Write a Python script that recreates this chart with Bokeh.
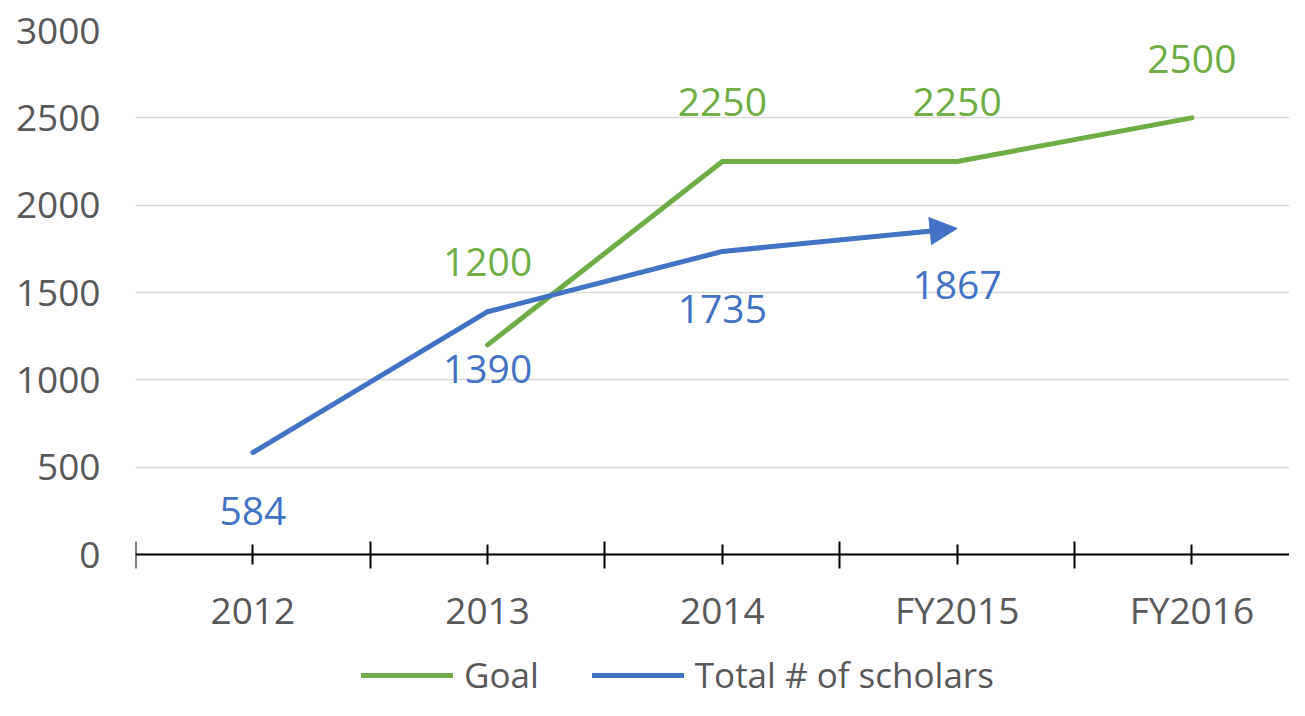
from bokeh.plotting import figure
from bokeh.models import (ColumnDataSource, FixedTicker, LabelSet, Arrow, NormalHead,
                          Legend, LegendItem)
from bokeh.core.properties import value
from bokeh.embed import file_html
from bokeh.resources import INLINE

# ---- data ----
categories = ["2012", "2013", "2014", "FY2015", "FY2016"]
goal_categories = ["2013", "2014", "FY2015", "FY2016"]
goal_values = [1200, 2250, 2250, 2500]
scholar_categories = ["2012", "2013", "2014", "FY2015"]
scholar_values = [584, 1390, 1735, 1867]
y_ticks = [0, 500, 1000, 1500, 2000, 2500, 3000]
series_names = ["Goal", "Total # of scholars"]

# ---- style ----
GREEN = "#70AD47"
BLUE = "#4472C4"
TXT = "#595959"
GRID = "#D9D9D9"
FONT = "Open Sans"

pos = {c: i for i, c in enumerate(categories)}
goal_x = [pos[c] for c in goal_categories]
sch_x = [pos[c] for c in scholar_categories]

# frame spans down to the canvas bottom so the legend can sit below the x axis
Y_MAX = 3000
Y_MIN = -Y_MAX * 146 / 524

p = figure(width=1289, height=700, output_backend="svg", toolbar_location=None,
           x_range=(-0.5, 4.416), y_range=(Y_MIN, Y_MAX),
           min_border_left=135, min_border_right=0, min_border_top=30,
           min_border_bottom=0)
p.outline_line_color = None
p.background_fill_color = "white"
p.border_fill_color = "white"

# y axis
p.yaxis.ticker = FixedTicker(ticks=y_ticks)
p.yaxis.axis_line_color = None
p.yaxis.major_tick_line_color = None
p.yaxis.minor_tick_line_color = None
p.yaxis.major_label_text_font = FONT
p.yaxis.major_label_text_font_size = "37px"
p.yaxis.major_label_text_color = TXT
p.yaxis.major_label_standoff = 29

p.ygrid.ticker = FixedTicker(ticks=y_ticks)
p.ygrid.grid_line_color = GRID
p.ygrid.grid_line_width = 1.5
p.xgrid.grid_line_color = None

# x axis at y = 0
p.xaxis.fixed_location = 0
p.xaxis.ticker = FixedTicker(ticks=list(range(len(categories))),
                             minor_ticks=[i - 0.5 for i in range(len(categories) + 1)])
p.xaxis.major_label_overrides = {i: c for i, c in enumerate(categories)}
p.xaxis.axis_line_color = "black"
p.xaxis.axis_line_width = 2
p.xaxis.major_tick_line_color = "black"
p.xaxis.major_tick_line_width = 2
p.xaxis.major_tick_in = 10
p.xaxis.major_tick_out = 10
p.xaxis.minor_tick_line_color = "black"
p.xaxis.minor_tick_line_width = 2
p.xaxis.minor_tick_in = 13
p.xaxis.minor_tick_out = 14
p.xaxis.major_label_text_font = FONT
p.xaxis.major_label_text_font_size = "37px"
p.xaxis.major_label_text_color = TXT
p.xaxis.major_label_standoff = 15

# lines
goal_r = p.line(goal_x, goal_values, line_color=GREEN, line_width=5,
                line_cap="round", line_join="round")
sch_r = p.line(sch_x[:-1], scholar_values[:-1], line_color=BLUE, line_width=5,
               line_cap="round", line_join="round")
arrow_src = ColumnDataSource(dict(x0=[sch_x[-2]], y0=[scholar_values[-2]],
                                  x1=[sch_x[-1]], y1=[scholar_values[-1]]))
p.add_layout(Arrow(x_start="x0", y_start="y0", x_end="x1", y_end="y1", source=arrow_src,
                   line_color=BLUE, line_width=5,
                   end=NormalHead(size=27, fill_color=BLUE, line_color=BLUE, line_width=1)))

# data labels
goal_off = [69, 46, 46, 45]
sch_off = [-73, -71, -72, -71]
gsrc = ColumnDataSource(dict(x=goal_x, y=goal_values, t=[str(v) for v in goal_values], o=goal_off))
ssrc = ColumnDataSource(dict(x=sch_x, y=scholar_values, t=[str(v) for v in scholar_values], o=sch_off))
for src, col in ((gsrc, GREEN), (ssrc, BLUE)):
    p.add_layout(LabelSet(x="x", y="y", text="t", y_offset="o", source=src,
                          text_align="center", text_baseline="alphabetic",
                          text_color=col, text_font=value(FONT), text_font_size="39px"))

legend = Legend(items=[LegendItem(label=series_names[0], renderers=[goal_r]),
                       LegendItem(label=series_names[1], renderers=[sch_r])],
                orientation="horizontal", location=(226, 2),
                label_text_font=FONT, label_text_font_size="35px", label_text_color=TXT,
                glyph_width=92, glyph_height=30, label_standoff=11, spacing=53,
                padding=0, margin=0, border_line_color=None, background_fill_alpha=0)
p.add_layout(legend, "center")

open("out.html", "w").write(file_html(p, INLINE))
